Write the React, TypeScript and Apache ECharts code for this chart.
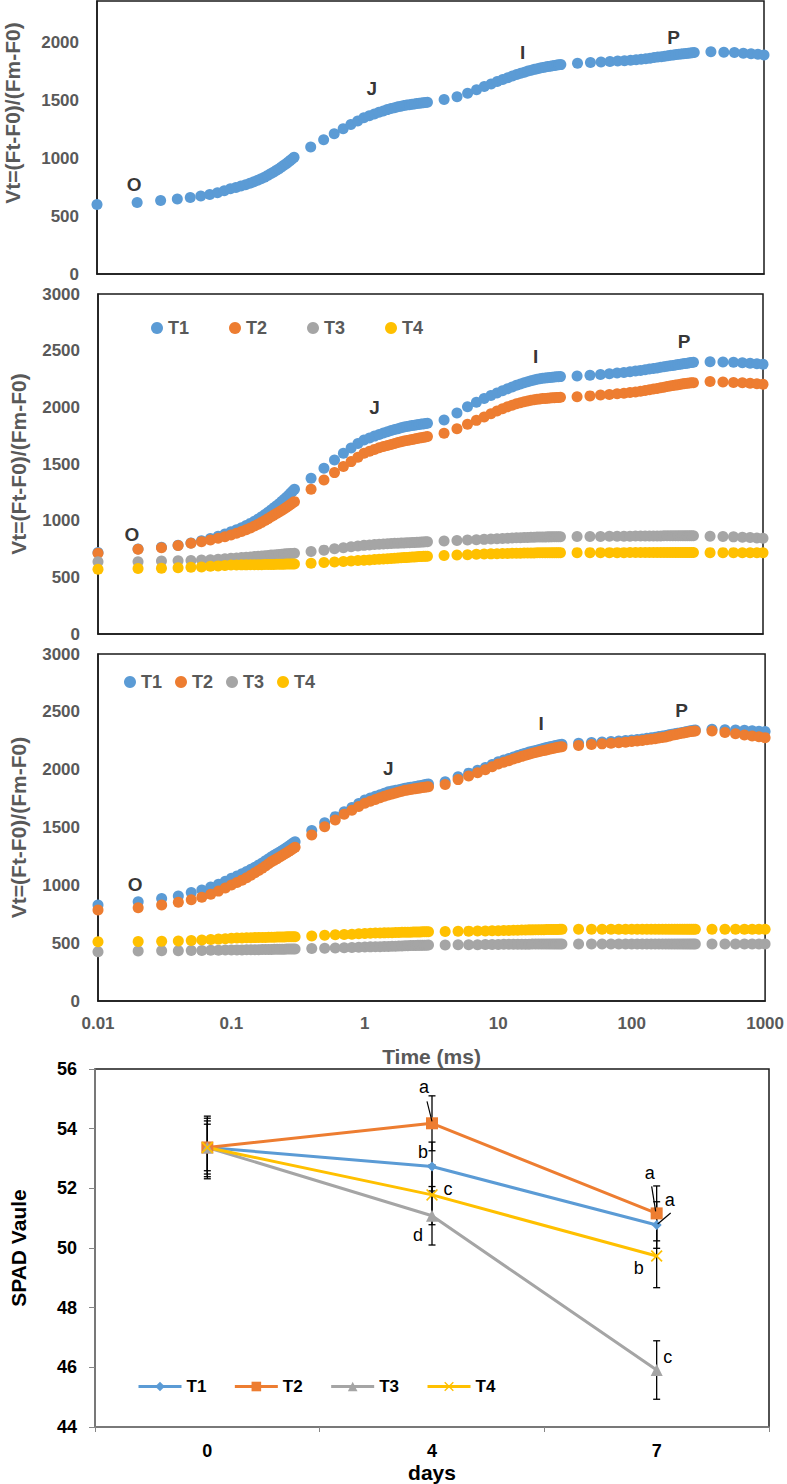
import React, { useEffect, useRef } from 'react';
import * as echarts from 'echarts';

// ---------- OJIP time points (ms) ----------
const TIME_MS = [
  0.01, 0.02, 0.03, 0.04, 0.05, 0.06, 0.07, 0.08, 0.09, 0.1, 0.11, 0.12, 0.13, 0.14, 0.15, 0.16, 0.17, 0.18, 0.19, 0.2,
  0.21, 0.22, 0.23, 0.24, 0.25, 0.26, 0.27, 0.28, 0.29, 0.3,
  0.4, 0.5, 0.6, 0.7, 0.8, 0.9, 1, 1.1, 1.2, 1.3, 1.4, 1.5, 1.6, 1.7, 1.8, 1.9, 2, 2.1, 2.2, 2.3, 2.4, 2.5, 2.6, 2.7, 2.8, 2.9, 3,
  4, 5, 6, 7, 8, 9, 10, 11, 12, 13, 14, 15, 16, 17, 18, 19, 20, 21, 22, 23, 24, 25, 26, 27, 28, 29, 30,
  40, 50, 60, 70, 80, 90, 100, 110, 120, 130, 140, 150, 160, 170, 180, 190, 200, 210, 220, 230, 240, 250, 260, 270, 280, 290, 300,
  400, 500, 600, 700, 800, 900, 1000,
];

// Panel 1 (single curve)
const P1_VT = [
  600, 618, 636, 648, 661, 674, 688, 703, 720, 737, 748, 760, 772, 784, 797, 810, 823, 837, 851, 866,
  880, 894, 908, 922, 937, 951, 965, 980, 995, 1010,
  1098, 1161, 1213, 1256, 1293, 1323, 1350, 1368, 1384, 1398, 1410, 1421, 1430, 1438, 1445, 1451, 1456, 1460, 1464, 1467, 1470, 1473, 1476, 1478, 1480, 1482, 1484,
  1509, 1532, 1562, 1592, 1620, 1643, 1664, 1681, 1697, 1711, 1724, 1735, 1745, 1754, 1762, 1769, 1775, 1780, 1785, 1789, 1793, 1797, 1800, 1803, 1806, 1808, 1810,
  1822, 1828, 1833, 1837, 1841, 1844, 1848, 1852, 1856, 1861, 1866, 1871, 1875, 1879, 1883, 1887, 1891, 1894, 1897, 1900, 1902, 1905, 1907, 1909, 1911, 1913, 1914,
  1922, 1917, 1914, 1909, 1904, 1899, 1894,
];

// Panel 2
const P2_T1 = [
  720, 750, 765, 782, 803, 822, 843, 862, 882, 903, 920, 938, 957, 976, 995, 1015, 1034, 1054, 1074, 1094,
  1113, 1132, 1150, 1168, 1187, 1205, 1223, 1241, 1259, 1277,
  1374, 1462, 1535, 1594, 1642, 1680, 1712, 1730, 1746, 1760, 1773, 1785, 1795, 1804, 1812, 1819, 1826, 1831, 1836, 1840, 1843, 1846, 1849, 1852, 1854, 1857, 1859,
  1888, 1950, 2005, 2045, 2078, 2105, 2127, 2147, 2164, 2180, 2194, 2206, 2217, 2226, 2234, 2241, 2247, 2252, 2256, 2259, 2262, 2264, 2266, 2268, 2269, 2270, 2271,
  2277, 2283, 2290, 2296, 2302, 2308, 2314, 2320, 2326, 2332, 2338, 2343, 2348, 2353, 2358, 2362, 2366, 2370, 2374, 2378, 2381, 2384, 2387, 2390, 2393, 2395, 2397,
  2403, 2400, 2397, 2393, 2389, 2385, 2380,
];
const P2_T2 = [
  712, 747, 762, 780, 800, 815, 829, 844, 859, 874, 889, 904, 920, 936, 952, 968, 985, 1001, 1018, 1035,
  1049, 1063, 1076, 1090, 1103, 1116, 1129, 1142, 1155, 1168,
  1277, 1359, 1424, 1477, 1521, 1560, 1594, 1613, 1629, 1643, 1654, 1664, 1673, 1681, 1689, 1696, 1702, 1707, 1712, 1717, 1721, 1725, 1729, 1732, 1736, 1739, 1742,
  1771, 1812, 1850, 1885, 1915, 1944, 1968, 1988, 2005, 2019, 2031, 2041, 2049, 2056, 2062, 2067, 2071, 2074, 2077, 2079, 2081, 2083, 2084, 2085, 2086, 2087, 2088,
  2094, 2101, 2108, 2114, 2119, 2124, 2130, 2136, 2142, 2149, 2155, 2161, 2167, 2173, 2178, 2183, 2188, 2192, 2196, 2200, 2204, 2207, 2210, 2213, 2215, 2217, 2218,
  2227, 2224, 2220, 2216, 2212, 2208, 2203,
];
const P2_T3 = [
  638, 638, 644, 646, 649, 652, 656, 660, 664, 668, 671, 674, 677, 680, 683, 686, 688, 691, 693, 696,
  698, 700, 702, 704, 705, 707, 708, 710, 711, 712,
  727, 740, 752, 761, 769, 776, 782, 786, 789, 792, 794, 796, 798, 800, 801, 803, 804, 805, 806, 807, 808, 809, 810, 811, 812, 813, 814,
  820, 825, 829, 832, 835, 838, 841, 843, 845, 847, 849, 850, 851, 852, 853, 854, 855, 855, 856, 856, 857, 857, 858, 858, 858, 859, 859,
  860, 861, 861, 862, 862, 863, 863, 864, 864, 864, 865, 865, 865, 865, 866, 866, 866, 866, 866, 866, 866, 866, 866, 866, 866, 866, 866,
  862, 860, 857, 854, 851, 848, 845,
];
const P2_T4 = [
  571, 578, 581, 584, 588, 592, 597, 601, 605, 608, 609, 610, 610, 611, 611, 612, 612, 613, 613, 614,
  614, 615, 615, 616, 616, 617, 617, 617, 618, 618,
  625, 631, 636, 640, 644, 648, 651, 654, 657, 660, 662, 664, 666, 668, 670, 672, 674, 676, 677, 679, 680, 682, 683, 684, 685, 686, 687,
  693, 697, 700, 703, 705, 707, 709, 710, 711, 712, 713, 713, 714, 714, 715, 715, 716, 716, 716, 717, 717, 717, 717, 718, 718, 718, 718,
  718, 718, 718, 718, 718, 718, 719, 719, 719, 719, 719, 719, 719, 719, 719, 719, 719, 719, 719, 719, 719, 719, 719, 719, 719, 719, 719,
  718, 718, 718, 717, 717, 717, 717,
];

// Panel 3
const P3_T1 = [
  830, 859, 886, 908, 937, 960, 985, 1010, 1036, 1061, 1081, 1100, 1119, 1138, 1157, 1175, 1194, 1212, 1230, 1248,
  1262, 1276, 1289, 1302, 1315, 1328, 1340, 1353, 1365, 1377,
  1473, 1542, 1594, 1637, 1673, 1707, 1738, 1755, 1770, 1784, 1797, 1808, 1815, 1821, 1827, 1833, 1839, 1843, 1847, 1851, 1855, 1859, 1862, 1866, 1869, 1873, 1876,
  1896, 1939, 1970, 1995, 2018, 2045, 2069, 2083, 2097, 2110, 2122, 2133, 2143, 2152, 2160, 2166, 2172, 2179, 2185, 2191, 2196, 2201, 2205, 2209, 2213, 2216, 2219,
  2228, 2234, 2239, 2243, 2247, 2252, 2257, 2261, 2266, 2271, 2276, 2281, 2286, 2291, 2296, 2301, 2306, 2310, 2314, 2318, 2322, 2326, 2330, 2334, 2337, 2340, 2343,
  2349, 2346, 2343, 2340, 2337, 2333, 2329,
];
const P3_T2 = [
  787, 807, 830, 853, 876, 897, 923, 950, 977, 1003, 1024, 1045, 1066, 1087, 1108, 1128, 1148, 1167, 1186, 1205,
  1218, 1231, 1244, 1257, 1270, 1282, 1294, 1306, 1318, 1329,
  1435, 1507, 1565, 1614, 1650, 1681, 1709, 1727, 1743, 1757, 1770, 1781, 1790, 1798, 1806, 1814, 1821, 1825, 1829, 1833, 1836, 1839, 1842, 1845, 1848, 1851, 1853,
  1872, 1914, 1946, 1974, 1999, 2025, 2049, 2064, 2078, 2092, 2104, 2115, 2125, 2134, 2142, 2149, 2155, 2161, 2166, 2171, 2176, 2181, 2185, 2189, 2193, 2196, 2199,
  2210, 2217, 2223, 2228, 2233, 2238, 2243, 2248, 2253, 2258, 2263, 2268, 2273, 2278, 2283, 2290, 2297, 2302, 2307, 2312, 2316, 2320, 2324, 2327, 2330, 2332, 2334,
  2334, 2321, 2310, 2300, 2292, 2284, 2277,
];
const P3_T3 = [
  426, 433, 434, 435, 436, 437, 438, 439, 440, 441, 442, 442, 443, 443, 444, 444, 445, 445, 446, 446,
  447, 447, 448, 448, 448, 449, 449, 449, 450, 450,
  453, 456, 459, 461, 463, 465, 467, 468, 469, 470, 471, 472, 473, 474, 475, 476, 477, 478, 479, 479, 480, 481, 481, 482, 482, 483, 484,
  485, 486, 487, 487, 488, 489, 489, 490, 490, 490, 491, 491, 491, 491, 492, 492, 492, 492, 492, 492, 493, 493, 493, 493, 493, 493, 493,
  493, 493, 493, 493, 493, 493, 493, 493, 493, 493, 493, 493, 493, 493, 493, 493, 493, 493, 493, 493, 493, 493, 493, 493, 493, 493, 493,
  493, 493, 493, 493, 493, 493, 493,
];
const P3_T4 = [
  513, 514, 516, 519, 523, 527, 531, 535, 539, 542, 544, 545, 546, 547, 548, 549, 550, 550, 551, 552,
  552, 553, 553, 554, 554, 555, 555, 555, 556, 556,
  562, 568, 572, 575, 578, 581, 584, 586, 587, 588, 589, 590, 591, 592, 593, 594, 594, 595, 595, 596, 596, 597, 597, 598, 598, 599, 599,
  601, 603, 604, 605, 606, 607, 608, 609, 610, 611, 612, 613, 614, 615, 615, 616, 616, 617, 617, 618, 618, 618, 619, 619, 619, 620, 620,
  620, 620, 620, 620, 620, 620, 620, 620, 620, 620, 620, 620, 620, 620, 620, 620, 620, 620, 620, 620, 620, 620, 620, 620, 620, 620, 620,
  620, 620, 620, 620, 620, 620, 620,
];

// OJIP step labels: [time ms, value, text]
const STEPS_P1 = [[0.019, 770, 'O'], [1.15, 1600, 'J'], [15.5, 1915, 'I'], [210, 2045, 'P']];
const STEPS_P2 = [[0.018, 875, 'O'], [1.2, 1995, 'J'], [19.5, 2445, 'I'], [255, 2580, 'P']];
const STEPS_P3 = [[0.019, 1005, 'O'], [1.5, 2010, 'J'], [21, 2400, 'I'], [237, 2515, 'P']];

const OJIP_TICKS = [0.01, 0.1, 1, 10, 100, 1000];

// ---------- SPAD ----------
const DAYS = ['0', '4', '7'];
const SPAD_T1 = [53.37, 52.73, 50.77];
const SPAD_T2 = [53.37, 54.18, 51.16];
const SPAD_T3 = [53.37, 51.08, 45.91];
const SPAD_T4 = [53.37, 51.78, 49.73];
const ERR_T1 = [0.98, 0.82, 0.78];
const ERR_T2 = [1.05, 0.92, 0.92];
const ERR_T3 = [0.89, 0.98, 0.98];
const ERR_T4 = [0.78, 1.0, 1.06];

// significance letters: [day index, series, letter]
const LETTERS = [
  [1, 'T2', 'a'], [1, 'T1', 'b'], [1, 'T4', 'c'], [1, 'T3', 'd'],
  [2, 'T2', 'a'], [2, 'T1', 'a'], [2, 'T4', 'b'], [2, 'T3', 'c'],
];
// pixel offsets of the letters relative to their marker (styling)
const LETTER_LAYOUT = [
  { dx: -8, dy: -36, line: [-5, -22, 0, -2] },
  { dx: -9, dy: -15 },
  { dx: 16, dy: -6 },
  { dx: -14, dy: 19 },
  { dx: -7, dy: -40, line: [-5, -27, -1, -2] },
  { dx: 13, dy: -25, line: [14, -12, 1, -1] },
  { dx: -18, dy: 12 },
  { dx: 11, dy: -13 },
];

const COLORS: Record<string, string> = { T1: '#5B9BD5', T2: '#ED7D31', T3: '#A5A5A5', T4: '#FFC000' };
const FONT = '"Liberation Sans", Arial, Helvetica, sans-serif';
const GRAY_TXT = '#595959';
const CROSS = 'path://M1,0L5,4L9,0L10,1L6,5L10,9L9,10L5,6L1,10L0,9L4,5L0,1Z';

export default function App() {
  const ref = useRef<HTMLDivElement>(null);

  useEffect(() => {
    if (!ref.current) return;
    const chart = echarts.init(ref.current, undefined, { renderer: 'svg' });

    const pts = (arr: number[]) => TIME_MS.map((t, i) => [t, arr[i]]);
    const scatter = (name: string, arr: number[], idx: number, color: string) => ({
      type: 'scatter',
      name,
      xAxisIndex: idx,
      yAxisIndex: idx,
      data: pts(arr),
      symbol: 'circle',
      symbolSize: 11,
      itemStyle: { color, opacity: 1 },
      silent: true,
    });
    const steps = (arr: any[], idx: number) => ({
      type: 'scatter',
      name: 'steps' + idx,
      xAxisIndex: idx,
      yAxisIndex: idx,
      data: arr,
      symbolSize: 1,
      itemStyle: { color: 'rgba(0,0,0,0)' },
      silent: true,
      z: 5,
      label: {
        show: true,
        position: 'inside',
        formatter: (p: any) => p.value[2],
        color: '#000',
        fontWeight: 'bold',
        fontSize: 19,
        fontFamily: FONT,
      },
    });

    const ojipX = (idx: number, showLabels: boolean) => ({
      type: 'log',
      logBase: 10,
      gridIndex: idx,
      min: 0.01,
      max: 1000,
      axisLine: { show: true, lineStyle: { color: '#1a1a1a', width: 1.5 } },
      axisTick: { show: false },
      splitLine: { show: false },
      axisLabel: {
        show: showLabels,
        margin: 14,
        color: GRAY_TXT,
        fontWeight: 'bold',
        fontSize: 17,
        fontFamily: FONT,
        formatter: (v: number) => {
          const m = OJIP_TICKS.find((t) => Math.abs(t - v) / t < 1e-6);
          return m !== undefined ? String(m) : '';
        },
      },
      ...(showLabels
        ? {
            name: 'Time (ms)',
            nameLocation: 'middle',
            nameGap: 45,
            nameTextStyle: { color: GRAY_TXT, fontWeight: 'bold', fontSize: 21, fontFamily: FONT },
          }
        : {}),
    });
    const ojipY = (idx: number, max: number, withName: boolean) => ({
      type: 'value',
      gridIndex: idx,
      min: 0,
      max,
      interval: 500,
      axisLine: { show: true, lineStyle: { color: '#1a1a1a', width: 1.5 } },
      axisTick: { show: false },
      splitLine: { show: false },
      axisLabel: {
        margin: 18,
        color: GRAY_TXT,
        fontWeight: 'bold',
        fontSize: 17,
        fontFamily: FONT,
        showMaxLabel: max === 3000,
        formatter: (v: number) => (v % 500 === 0 ? String(v) : ''),
      },
      ...(withName
        ? {
            name: 'Vt=(Ft-F0)/(Fm-F0)',
            nameLocation: 'middle',
            nameGap: 69,
            nameTextStyle: { color: GRAY_TXT, fontWeight: 'bold', fontSize: 21, fontFamily: FONT },
          }
        : {}),
    });

    const spadSeries: Record<string, number[]> = { T1: SPAD_T1, T2: SPAD_T2, T3: SPAD_T3, T4: SPAD_T4 };
    const spadErr: Record<string, number[]> = { T1: ERR_T1, T2: ERR_T2, T3: ERR_T3, T4: ERR_T4 };
    const errData: number[][] = [];
    ['T1', 'T2', 'T3', 'T4'].forEach((s) => {
      spadSeries[s].forEach((v, i) => errData.push([i, v - spadErr[s][i], v + spadErr[s][i]]));
    });
    const letterData = LETTERS.map((l, k) => [l[0] as number, spadSeries[l[1] as string][l[0] as number], k]);
    const symbols: Record<string, any> = {
      T1: { symbol: 'diamond', symbolSize: 10 },
      T2: { symbol: 'rect', symbolSize: 12 },
      T3: { symbol: 'triangle', symbolSize: 12 },
      T4: { symbol: CROSS, symbolSize: 12 },
    };

    const option: any = {
      animation: false,
      backgroundColor: '#fff',
      grid: [
        { left: 97, top: 1, width: 667, height: 273, show: true, borderColor: '#1a1a1a', borderWidth: 1.5, backgroundColor: 'transparent' },
        { left: 93, top: 294, width: 670, height: 340, show: true, borderColor: '#1a1a1a', borderWidth: 1.5, backgroundColor: 'transparent' },
        { left: 93, top: 654, width: 674, height: 347, show: true, borderColor: '#1a1a1a', borderWidth: 1.5, backgroundColor: 'transparent' },
        { left: 93, top: 1069, width: 676, height: 358, show: true, borderColor: '#1a1a1a', borderWidth: 1.5, backgroundColor: 'transparent' },
      ],
      xAxis: [
        ojipX(0, false),
        ojipX(1, false),
        ojipX(2, true),
        {
          type: 'category',
          gridIndex: 3,
          data: DAYS,
          boundaryGap: true,
          axisLine: { show: true, lineStyle: { color: '#868686', width: 1.5 } },
          axisTick: { show: true, length: 5, alignWithLabel: false, lineStyle: { color: '#868686' } },
          splitLine: { show: false },
          axisLabel: { margin: 15, color: '#000', fontWeight: 'bold', fontSize: 18, fontFamily: FONT },
          name: 'days',
          nameLocation: 'middle',
          nameGap: 35,
          nameTextStyle: { color: '#000', fontWeight: 'bold', fontSize: 21, fontFamily: FONT },
        },
      ],
      yAxis: [
        ojipY(0, 2360, false),
        ojipY(1, 3000, true),
        ojipY(2, 3000, true),
        {
          type: 'value',
          gridIndex: 3,
          min: 44,
          max: 56,
          interval: 2,
          axisLine: { show: true, lineStyle: { color: '#868686', width: 1.5 } },
          axisTick: { show: true, length: 6, lineStyle: { color: '#868686' } },
          splitLine: { show: false },
          axisLabel: { margin: 18, color: '#000', fontWeight: 'bold', fontSize: 18, fontFamily: FONT },
          name: 'SPAD Vaule',
          nameLocation: 'middle',
          nameGap: 66,
          nameTextStyle: { color: '#000', fontWeight: 'bold', fontSize: 21, fontFamily: FONT },
        },
      ],
      legend: [
        {
          data: ['T1', 'T2', 'T3', 'T4'],
          left: 151,
          top: 319,
          icon: 'circle',
          itemWidth: 12,
          itemHeight: 12,
          itemGap: 40,
          padding: 0,
          selectedMode: false,
          textStyle: { color: GRAY_TXT, fontWeight: 'bold', fontSize: 18, fontFamily: FONT },
        },
        {
          data: ['T1', 'T2', 'T3', 'T4'],
          left: 124,
          top: 673,
          icon: 'circle',
          itemWidth: 12,
          itemHeight: 12,
          itemGap: 13,
          padding: 0,
          selectedMode: false,
          textStyle: { color: GRAY_TXT, fontWeight: 'bold', fontSize: 18, fontFamily: FONT },
        },
        {
          data: ['T1 ', 'T2 ', 'T3 ', 'T4 '],
          left: 137,
          top: 1378,
          itemWidth: 43,
          itemHeight: 12,
          itemGap: 27,
          padding: 0,
          selectedMode: false,
          lineStyle: { width: 3 },
          formatter: (n: string) => n.trim(),
          textStyle: { color: '#000', fontWeight: 'bold', fontSize: 17, fontFamily: FONT },
        },
      ],
      graphic: [
        {
          type: 'text',
          x: 12,
          y: 113,
          rotation: Math.PI / 2,
          style: {
            text: 'Vt=(Ft-F0)/(Fm-F0)',
            fill: GRAY_TXT,
            font: 'bold 21px ' + FONT,
            align: 'center',
            verticalAlign: 'middle',
            textAlign: 'center',
            textVerticalAlign: 'middle',
          },
        },
      ],
      series: [
        scatter('T1', P2_T1, 1, COLORS.T1),
        scatter('T2', P2_T2, 1, COLORS.T2),
        scatter('T3', P2_T3, 1, COLORS.T3),
        scatter('T4', P2_T4, 1, COLORS.T4),
        scatter('Vt', P1_VT, 0, COLORS.T1),
        scatter('T1', P3_T1, 2, COLORS.T1),
        scatter('T2', P3_T2, 2, COLORS.T2),
        scatter('T3', P3_T3, 2, COLORS.T3),
        scatter('T4', P3_T4, 2, COLORS.T4),
        steps(STEPS_P1, 0),
        steps(STEPS_P2, 1),
        steps(STEPS_P3, 2),
        {
          type: 'custom',
          name: 'err',
          xAxisIndex: 3,
          yAxisIndex: 3,
          data: errData,
          encode: { x: 0, y: [1, 2] },
          silent: true,
          z: 1,
          renderItem: (_p: any, api: any) => {
            const x = api.value(0);
            const lo = api.coord([x, api.value(1)]);
            const hi = api.coord([x, api.value(2)]);
            const w = 3.5;
            const st = { stroke: '#000', lineWidth: 1.3 };
            return {
              type: 'group',
              children: [
                { type: 'line', shape: { x1: lo[0], y1: lo[1], x2: hi[0], y2: hi[1] }, style: st },
                { type: 'line', shape: { x1: lo[0] - w, y1: lo[1], x2: lo[0] + w, y2: lo[1] }, style: st },
                { type: 'line', shape: { x1: hi[0] - w, y1: hi[1], x2: hi[0] + w, y2: hi[1] }, style: st },
              ],
            };
          },
        },
        ...['T1', 'T2', 'T3', 'T4'].map((s) => ({
          type: 'line',
          name: s + ' ',
          xAxisIndex: 3,
          yAxisIndex: 3,
          data: spadSeries[s],
          ...symbols[s],
          showAllSymbol: true,
          z: 3,
          lineStyle: { color: COLORS[s], width: 3 },
          itemStyle: { color: COLORS[s], borderColor: COLORS[s], borderWidth: 0 },
          emphasis: { disabled: true },
        })),
        {
          type: 'custom',
          name: 'letters',
          xAxisIndex: 3,
          yAxisIndex: 3,
          data: letterData,
          encode: { x: 0, y: 1 },
          silent: true,
          z: 6,
          renderItem: (_p: any, api: any) => {
            const k = api.value(2);
            const p = api.coord([api.value(0), api.value(1)]);
            const lay = LETTER_LAYOUT[k];
            const children: any[] = [
              {
                type: 'text',
                x: p[0] + lay.dx,
                y: p[1] + lay.dy,
                style: {
                  text: LETTERS[k][2],
                  fill: '#000',
                  font: '18px ' + FONT,
                  align: 'center',
                  verticalAlign: 'middle',
                  textAlign: 'center',
                  textVerticalAlign: 'middle',
                },
              },
            ];
            if (lay.line) {
              children.push({
                type: 'line',
                shape: { x1: p[0] + lay.line[0], y1: p[1] + lay.line[1], x2: p[0] + lay.line[2], y2: p[1] + lay.line[3] },
                style: { stroke: '#000', lineWidth: 1.2 },
              });
            }
            return { type: 'group', children };
          },
        },
      ],
    };

    chart.setOption(option);
    return () => chart.dispose();
  }, []);

  return <div ref={ref} style={{ position: 'absolute', left: 0, top: 0, width: 787, height: 1484 }} />;
}
